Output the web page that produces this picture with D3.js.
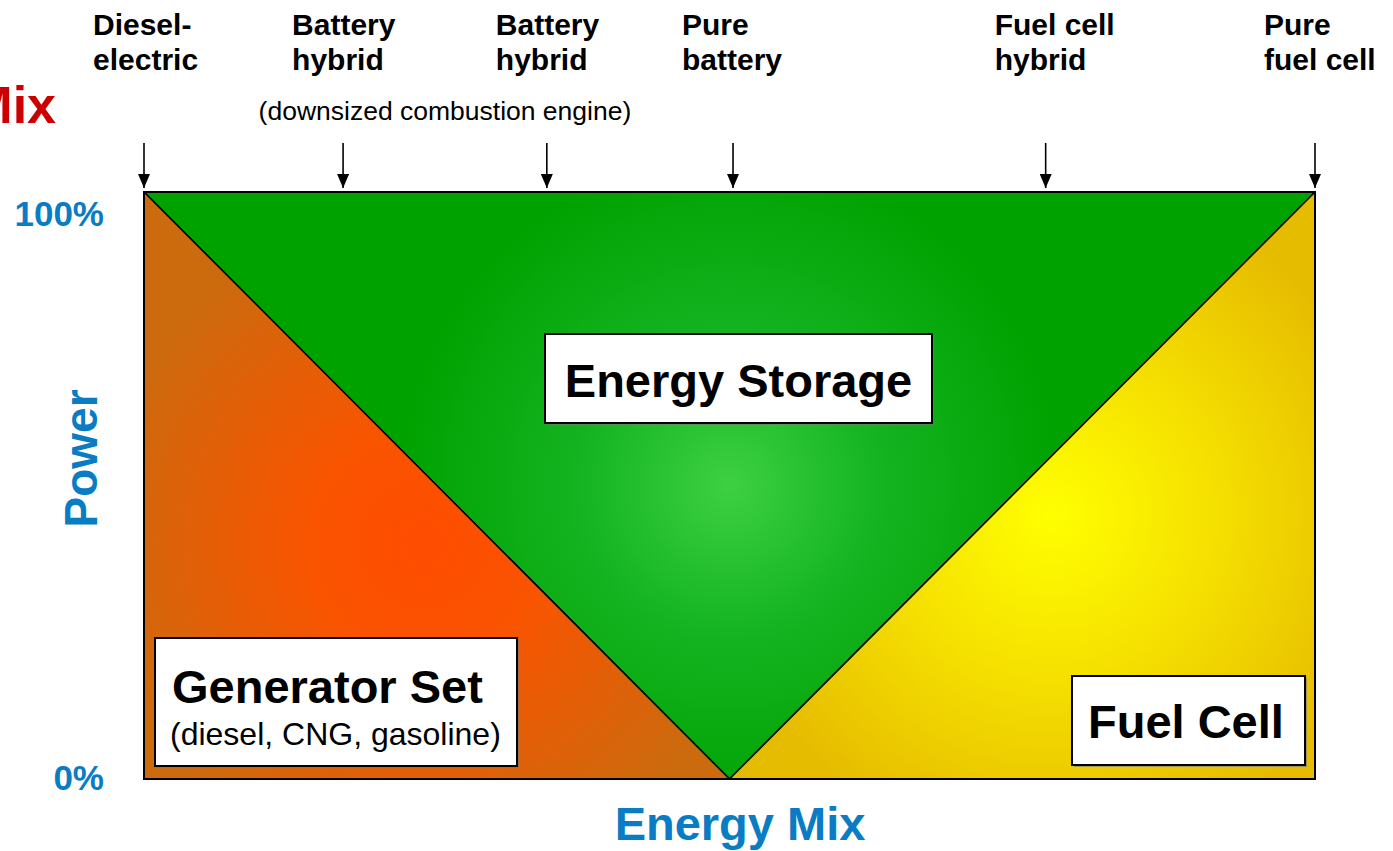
<!DOCTYPE html>
<html>
<head>
<meta charset="utf-8">
<script src="https://cdn.jsdelivr.net/npm/d3@7"></script>
<style>
  html, body { margin: 0; padding: 0; background: #fff; }
  svg { display: block; font-family: "Liberation Sans", Arial, sans-serif; }
</style>
</head>
<body>
<svg id="chart" width="1393" height="851"></svg>
<script>
// architectures along the energy-mix axis (0 = all generator, 0.5 = all storage, 1 = all fuel cell)
const archLabels = [
  ["Diesel-", "electric"],
  ["Battery", "hybrid"],
  ["Battery", "hybrid"],
  ["Pure", "battery"],
  ["Fuel cell", "hybrid"],
  ["Pure", "fuel cell"],
];
const archMix = [0, 0.17, 0.344, 0.503, 0.77, 1];

const powerTicks = [0, 100];
const powerTickLabels = ["0%", "100%"];

// regions in (mix, power%) space
const generatorRegion = [[0, 100], [0.5, 0], [0, 0]];
const storageRegion = [[0, 100], [1, 100], [0.5, 0]];
const fuelCellRegion = [[0.5, 0], [1, 100], [1, 0]];

const svg = d3.select("#chart");
const x = d3.scaleLinear().domain([0, 1]).range([144, 1315]);
const y = d3.scaleLinear().domain([0, 100]).range([779, 192]);

const defs = svg.append("defs");

function radial(id, cx, cy, r, stops) {
  const gr = defs.append("radialGradient")
    .attr("id", id)
    .attr("gradientUnits", "userSpaceOnUse")
    .attr("cx", cx).attr("cy", cy).attr("r", r);
  stops.forEach(([o, c]) => gr.append("stop").attr("offset", o).attr("stop-color", c));
}

radial("gOrange", x(0.24), y(40), 330, [[0, "#ff4c00"], [0.35, "#f95400"], [1, "#cc6a0e"]]);
radial("gGreen", x(0.5), y(50), 330, [[0, "#3dd042"], [0.45, "#14b422"], [1, "#00a200"]]);
radial("gYellow", x(0.775), y(45), 340, [[0, "#ffff00"], [0.45, "#f6e200"], [1, "#e6bc00"]]);

defs.append("marker")
  .attr("id", "arrowHead")
  .attr("viewBox", "0 0 14 12")
  .attr("refX", 14).attr("refY", 6)
  .attr("markerWidth", 14).attr("markerHeight", 12)
  .attr("markerUnits", "userSpaceOnUse")
  .attr("orient", "auto")
  .append("path")
  .attr("d", "M0,0 L14,6 L0,12 Z")
  .attr("fill", "#000");

const area = d3.line().x((d) => x(d[0])).y((d) => y(d[1]));

const regions = [
  { pts: storageRegion, fill: "url(#gGreen)" },
  { pts: generatorRegion, fill: "url(#gOrange)" },
  { pts: fuelCellRegion, fill: "url(#gYellow)" },
];

svg.append("g")
  .selectAll("path")
  .data(regions)
  .join("path")
  .attr("d", (d) => area(d.pts) + "Z")
  .attr("fill", (d) => d.fill)
  .attr("stroke", "#000")
  .attr("stroke-width", 1.5)
  .attr("stroke-linejoin", "round");

// frame
svg.append("rect")
  .attr("x", x(0)).attr("y", y(100))
  .attr("width", x(1) - x(0)).attr("height", y(0) - y(100))
  .attr("fill", "none")
  .attr("stroke", "#000")
  .attr("stroke-width", 2);

// arrows + architecture labels
const arch = svg.append("g")
  .selectAll("g")
  .data(archLabels.map((l, i) => ({ lines: l, mix: archMix[i] })))
  .join("g");

arch.append("line")
  .attr("x1", (d) => x(d.mix)).attr("x2", (d) => x(d.mix))
  .attr("y1", 143).attr("y2", y(100) - 4)
  .attr("stroke", "#000")
  .attr("stroke-width", 1.6)
  .attr("marker-end", "url(#arrowHead)");

arch.append("text")
  .attr("x", (d) => x(d.mix) - 51)
  .attr("y", 35)
  .attr("font-size", 30)
  .attr("font-weight", "bold")
  .attr("fill", "#000")
  .selectAll("tspan")
  .data((d) => d.lines.map((t, i) => ({ t, i, x: x(d.mix) - 51 })))
  .join("tspan")
  .attr("x", (d) => d.x)
  .attr("dy", (d) => (d.i === 0 ? 0 : 35))
  .text((d) => d.t);

svg.append("text")
  .attr("x", (x(archMix[1]) + x(archMix[2])) / 2)
  .attr("y", 120)
  .attr("text-anchor", "middle")
  .attr("font-size", 26.5)
  .attr("fill", "#000")
  .text("(downsized combustion engine)");

// clipped "Mix" at top-left
svg.append("text")
  .attr("x", 56).attr("y", 123)
  .attr("text-anchor", "end")
  .attr("font-size", 52)
  .attr("font-weight", "bold")
  .attr("fill", "#cc0000")
  .text("Mix");

// power axis labels
const blue = "#0a7cc4";
svg.append("g")
  .selectAll("text")
  .data(powerTicks)
  .join("text")
  .attr("x", 104)
  .attr("y", (d) => y(d) + (d === 100 ? 34 : 11))
  .attr("text-anchor", "end")
  .attr("font-size", 35)
  .attr("font-weight", "bold")
  .attr("fill", blue)
  .text((d, i) => powerTickLabels[i]);

svg.append("text")
  .attr("transform", `translate(97,${(y(0) + y(100)) / 2 - 27}) rotate(-90)`)
  .attr("text-anchor", "middle")
  .attr("font-size", 46)
  .attr("font-weight", "bold")
  .attr("fill", blue)
  .text("Power");

svg.append("text")
  .attr("x", 740).attr("y", 840)
  .attr("text-anchor", "middle")
  .attr("font-size", 47)
  .attr("font-weight", "bold")
  .attr("fill", blue)
  .text("Energy Mix");

// region label boxes
const boxes = [
  { x0: 545, y0: 334, x1: 932, y1: 423,
    lines: [{ t: "Energy Storage", x: 738.5, y: 397, size: 47, bold: true, anchor: "middle" }] },
  { x0: 155, y0: 638, x1: 517, y1: 766,
    lines: [
      { t: "Generator Set", x: 172, y: 703, size: 47, bold: true, anchor: "start" },
      { t: "(diesel, CNG, gasoline)", x: 170, y: 745, size: 32, bold: false, anchor: "start" },
    ] },
  { x0: 1072, y0: 676, x1: 1305, y1: 765,
    lines: [{ t: "Fuel Cell", x: 1088, y: 738, size: 47, bold: true, anchor: "start" }] },
];

const box = svg.append("g")
  .selectAll("g")
  .data(boxes)
  .join("g");

box.append("rect")
  .attr("x", (d) => d.x0 + 2).attr("y", (d) => d.y0 + 2)
  .attr("width", (d) => d.x1 - d.x0).attr("height", (d) => d.y1 - d.y0)
  .attr("fill", "#777")
  .attr("opacity", 0.6);

box.append("rect")
  .attr("x", (d) => d.x0).attr("y", (d) => d.y0)
  .attr("width", (d) => d.x1 - d.x0).attr("height", (d) => d.y1 - d.y0)
  .attr("fill", "#fff")
  .attr("stroke", "#000")
  .attr("stroke-width", 2);

box.selectAll("text")
  .data((d) => d.lines)
  .join("text")
  .attr("x", (d) => d.x).attr("y", (d) => d.y)
  .attr("text-anchor", (d) => d.anchor)
  .attr("font-size", (d) => d.size)
  .attr("font-weight", (d) => (d.bold ? "bold" : "normal"))
  .attr("fill", "#000")
  .text((d) => d.t);
</script>
</body>
</html>
